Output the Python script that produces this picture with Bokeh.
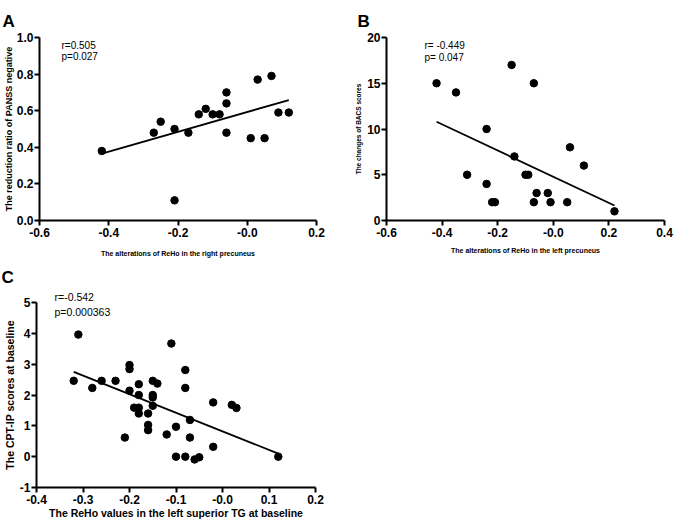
import numpy as np
from bokeh.plotting import figure
from bokeh.models import Range1d, FixedTicker, Label, CustomJSTickFormatter, Title
from bokeh.layouts import column, row
from bokeh.embed import file_html
from bokeh.resources import INLINE

FONT = "Liberation Sans"

# ---------------- Panel A data ----------------
a_x = [-0.42, -0.27, -0.25, -0.21, -0.21, -0.17, -0.14, -0.12, -0.10, -0.08,
       -0.06, -0.06, -0.06, 0.01, 0.03, 0.05, 0.07, 0.09, 0.12]
a_y = [0.38, 0.48, 0.54, 0.50, 0.11, 0.48, 0.58, 0.61, 0.58, 0.58,
       0.70, 0.64, 0.48, 0.45, 0.77, 0.45, 0.79, 0.59, 0.59]
a_xticks = [-0.6, -0.4, -0.2, 0.0, 0.2]
a_xlabels = ["-0.6", "-0.4", "-0.2", "-0.0", "0.2"]
a_yticks = [0.0, 0.2, 0.4, 0.6, 0.8, 1.0]
a_ylabels = ["0.0", "0.2", "0.4", "0.6", "0.8", "1.0"]
a_stats = ["r=0.505", "p=0.027"]

# ---------------- Panel B data ----------------
b_x = [-0.42, -0.35, -0.31, -0.24, -0.24, -0.22, -0.21, -0.15, -0.14, -0.10,
       -0.09, -0.07, -0.07, -0.06, -0.02, -0.01, 0.05, 0.06, 0.11, 0.22]
b_y = [15, 14, 5, 10, 4, 2, 2, 17, 7, 5,
       5, 15, 2, 3, 3, 2, 2, 8, 6, 1]
b_xticks = [-0.6, -0.4, -0.2, 0.0, 0.2, 0.4]
b_xlabels = ["-0.6", "-0.4", "-0.2", "-0.0", "0.2", "0.4"]
b_yticks = [0, 5, 10, 15, 20]
b_ylabels = ["0", "5", "10", "15", "20"]
b_stats = ["r= -0.449", "p= 0.047"]

# ---------------- Panel C data ----------------
c_x = [-0.32, -0.31, -0.28, -0.26, -0.23, -0.21, -0.20, -0.20, -0.20, -0.19,
       -0.18, -0.18, -0.18, -0.18, -0.16, -0.16, -0.16, -0.15, -0.15, -0.15,
       -0.15, -0.14, -0.12, -0.11, -0.10, -0.10, -0.08, -0.08, -0.08, -0.07,
       -0.07, -0.06, -0.05, -0.02, -0.02, 0.02, 0.03, 0.12]
c_y = [2.46, 3.96, 2.23, 2.46, 2.46, 0.62, 2.97, 2.84, 2.14, 1.59,
       2.35, 2.00, 1.59, 1.40, 1.40, 1.03, 0.86, 2.46, 2.00, 1.92,
       1.65, 2.37, 0.72, 3.67, 0.97, 0.00, 2.81, 2.23, 0.00, 1.19,
       0.62, -0.09, -0.02, 0.32, 1.76, 1.68, 1.58, 0.00]
c_xticks = [-0.4, -0.3, -0.2, -0.1, 0.0, 0.1, 0.2]
c_xlabels = ["-0.4", "-0.3", "-0.2", "-0.1", "-0.0", "0.1", "0.2"]
c_yticks = [-1, 0, 1, 2, 3, 4, 5]
c_ylabels = ["-1", "0", "1", "2", "3", "4", "5"]
c_stats = ["r=-0.542", "p=0.000363"]


def fmt(tv, tl):
    return CustomJSTickFormatter(args=dict(tv=tv, tl=tl), code="""
        for (let i = 0; i < tv.length; i++) {
            if (Math.abs(tick - tv[i]) < 1e-9) { return tl[i]; }
        }
        return tick.toString();
    """)


def panel(width, height, xr, yr, borders, xticks, xlabels, yticks, ylabels,
          xlab, ylab, xlab_size, ylab_size, xlab_standoff, ylab_standoff):
    p = figure(width=width, height=height, x_range=Range1d(*xr), y_range=Range1d(*yr),
               output_backend="svg", toolbar_location=None, title=None,
               min_border_left=borders[0], min_border_right=borders[1],
               min_border_top=borders[2], min_border_bottom=borders[3])
    p.grid.visible = False
    p.outline_line_color = None
    p.background_fill_color = "white"
    p.border_fill_color = "white"
    for ax, t, l in ((p.xaxis[0], xticks, xlabels), (p.yaxis[0], yticks, ylabels)):
        ax.ticker = FixedTicker(ticks=t)
        ax.formatter = fmt(t, l)
        ax.axis_line_width = 2
        ax.axis_line_color = "black"
        ax.major_tick_line_width = 2
        ax.major_tick_line_color = "black"
        ax.major_tick_out = 5
        ax.major_tick_in = 0
        ax.minor_tick_out = 0
        ax.minor_tick_in = 0
        ax.major_label_text_font = FONT
        ax.major_label_text_font_style = "bold"
        ax.major_label_text_font_size = "12px"
        ax.major_label_text_color = "black"
        ax.axis_label_text_font = FONT
        ax.axis_label_text_font_style = "bold"
        ax.axis_label_text_color = "black"
    p.xaxis.major_label_standoff = 2
    p.yaxis.major_label_standoff = 1
    p.xaxis.axis_label = xlab
    p.yaxis.axis_label = ylab
    p.xaxis.axis_label_text_font_size = xlab_size
    p.yaxis.axis_label_text_font_size = ylab_size
    p.xaxis.axis_label_standoff = xlab_standoff
    p.yaxis.axis_label_standoff = ylab_standoff
    return p


def draw(p, xs, ys):
    p.scatter(xs, ys, size=7.5, color="black")
    k, b = np.polyfit(np.array(xs), np.array(ys), 1)
    lx = np.array([min(xs), max(xs)])
    p.line(lx, k * lx + b, line_width=1.8, color="black")


def title(p, text, size, style, offset, standoff):
    p.add_layout(Title(text=text, align="left", offset=offset, standoff=standoff,
                       text_font=FONT, text_font_size=size, text_font_style=style,
                       text_color="black"), "above")


def stat(p, text, x, y, size):
    p.add_layout(Label(x=x, y=y, x_units="screen", y_units="screen", text=text,
                       text_font=FONT, text_font_size=size, text_color="black",
                       text_baseline="alphabetic"))


# ---- Panel A ----
pA = panel(340, 262, (-0.6, 0.2), (0.0, 1.0), (39, 24, 37, 42),
           a_xticks, a_xlabels, a_yticks, a_ylabels,
           "The alterations of ReHo in the right precuneus",
           "The reduction ratio of PANSS negative", "7px", "9px", 10, 0)
draw(pA, a_x, a_y)
title(pA, "A", "17px", "bold", -37, 13)
stat(pA, a_stats[0], 22, 175, "10px")
stat(pA, a_stats[1], 22, 164, "10px")

# ---- Panel B ----
pB = panel(335, 262, (-0.6, 0.4), (0, 20), (46, 11, 37, 42),
           b_xticks, b_xlabels, b_yticks, b_ylabels,
           "The alterations of ReHo in the left precuneus",
           "The changes of BACS scores", "7px", "6.5px", 7, 2)
draw(pB, b_x, b_y)
title(pB, "B", "17px", "bold", -29, 13)
stat(pB, b_stats[0], 38, 175.5, "10px")
stat(pB, b_stats[1], 38, 163.2, "10px")

# ---- Panel C ----
pC = panel(340, 264, (-0.4, 0.2), (-1, 5), (29, 25, 40, 39),
           c_xticks, c_xlabels, c_yticks, c_ylabels,
           "The ReHo values in the left superior TG at baseline",
           "The CPT-IP scores at baseline", "10.5px", "10.5px", 0, 1)
draw(pC, c_x, c_y)
title(pC, c_stats[0], "10.5px", "normal", 18, 0)
title(pC, "C", "17px", "bold", -35, 3)
stat(pC, c_stats[1], 18, 176, "10.5px")

layout = column(row(pA, pB), pC)
open("out.html", "w").write(file_html(layout, INLINE))
